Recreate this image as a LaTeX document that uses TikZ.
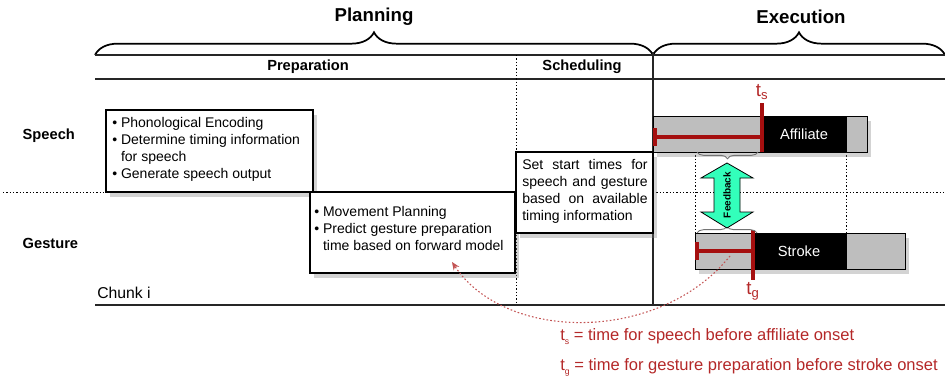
\documentclass[tikz,border=0pt]{standalone}
\usepackage{fontspec}
\setmainfont{Liberation Sans}
\usetikzlibrary{decorations.pathreplacing,shadows,fit,arrows.meta,calc}
\definecolor{dred}{RGB}{165,15,15}
\definecolor{tred}{RGB}{180,40,40}
\definecolor{fbgreen}{RGB}{51,255,187}
\definecolor{bargray}{RGB}{190,190,190}
\newcommand{\lsub}[1]{\raisebox{-0.45ex}{\fontsize{6.5}{7}\selectfont #1}}
\begin{document}
\begin{tikzpicture}[x=0.75pt,y=-0.75pt,
  shad/.style={drop shadow={shadow xshift=3pt,shadow yshift=-3.5pt,opacity=0.35}},
  box/.style={draw=black,line width=0.9pt,fill=white,inner sep=0pt,shad},
  graybar/.style={draw=black,line width=0.6pt,fill=bargray,inner sep=0pt,shad},
  blackbar/.style={draw=black,line width=0.6pt,fill=black,inner sep=0pt},
  txt/.style={font=\fontsize{10.5}{12.75}\selectfont,inner sep=0pt},
  legend/.style={font=\fontsize{12.4}{14}\selectfont,inner sep=0pt,text=tred,anchor=west},
  title/.style={font=\bfseries\fontsize{14}{16}\selectfont},
  head/.style={font=\bfseries\fontsize{11}{13}\selectfont},
  bigbrace/.style={decorate,decoration={brace,amplitude=17pt},line width=1.3pt},
  smallbrace/.style={decorate,decoration={brace,amplitude=5pt},line width=0.7pt,draw=black!55},
  rule/.style={line width=0.8pt,draw=black!85},
  dotline/.style={line width=0.6pt,dash pattern=on 1pt off 1.5pt},
  redbar/.style={draw=dred,line width=2.6pt},
  curvearrow/.style={draw=tred!80,line width=0.8pt,dash pattern=on 1.2pt off 1.6pt,-{Stealth[length=6pt,width=5pt]}}
]
\useasboundingbox (0,0) rectangle (945,378);

% titles and braces
\node[title] (plan) at (374,17) {Planning};
\node[title] (exec) at (801,17) {Execution};
\draw[bigbrace] (95,55) -- (653,55);
\draw[bigbrace] (653,55) -- (945,55);

% table lines
\draw[rule] (95,55) -- (945,55);
\draw[rule] (95,79) -- (945,79);
\draw[rule] (95,305) -- (945,305);
\draw[rule] (653,52) -- (653,305);
\draw[dotline] (516,55) -- (516,305);
\draw[dotline] (3,192) -- (945,192);
\draw[dotline] (695,152) -- (695,233);
\draw[dotline] (846,152) -- (846,233);

\node[head] (prep) at (308,67) {Preparation};
\node[head] (sched) at (582,67) {Scheduling};
\node[head,anchor=west] (speech) at (18,136) {Speech};
\node[head,anchor=west] (gesture) at (18,243) {Gesture};
\node[txt,anchor=west,font=\fontsize{11.8}{13}\selectfont] (chunk) at (97,293) {Chunk i};

% boxes
\node[box,fit={(106,110) (313,192)}] (b1) {};
\node[txt,anchor=north west,align=left] (t1) at (112,117) {• Phonological Encoding\\• Determine timing information\\\hphantom{• }for speech\\• Generate speech output};
\node[box,fit={(310,192) (515,273)}] (b2) {};
\node[txt,anchor=north west,align=left] (t2) at (314,206) {• Movement Planning\\• Predict gesture preparation\\\hphantom{• }time based on forward model};
\node[box,fit={(516,152) (653,233)}] (b3) {};
\node[txt,anchor=north west,align=left] (t3) at (522,159) {\makebox[94pt][s]{Set start times for}\\\makebox[94pt][s]{speech and gesture}\\\makebox[94pt][s]{based on available}\\timing information};

% affiliate bar
\node[graybar,fit={(653,116) (867,152)}] (aff) {};
\node[blackbar,fit={(762,116) (846,152)}] (affb) {};
\node[txt,text=white,font=\fontsize{11}{13}\selectfont] (afft) at (affb.center) {Affiliate};
% stroke bar
\node[graybar,fit={(695,233) (905,269)}] (str) {};
\node[blackbar,fit={(752,233) (846,269)}] (strb) {};
\node[txt,text=white,font=\fontsize{11}{13}\selectfont] (strt) at (strb.center) {Stroke};

% red timing marks
\draw[redbar] (762,103) -- (762,152);
\draw[redbar] (655,137) -- (762,137);
\draw[redbar] (655,128) -- (655,146);
\node[text=tred,font=\fontsize{14}{16}\selectfont] (ts) at (762,92) {t\textsubscript{s}};
\draw[redbar] (753,230) -- (753,280);
\draw[redbar] (697,251) -- (753,251);
\draw[redbar] (697,242) -- (697,260);
\node[text=tred,font=\fontsize{14}{16}\selectfont] (tg) at (753,291) {t\textsubscript{g}};

% small braces
\draw[smallbrace] (758,152) -- (697,152);
\draw[smallbrace] (697,233) -- (757,233);

% feedback arrow
\draw[fill=fbgreen,line width=0.6pt] (727,163) -- (753,178) -- (740,178) -- (740,212) -- (753,212) -- (727,228) -- (701,212) -- (714,212) -- (714,178) -- (701,178) -- cycle;
\node[rotate=90,font=\bfseries\fontsize{7.5}{8}\selectfont,inner sep=0pt] (fb) at (727,195) {Feedback};

% curved arrow
\coordinate (cs) at (730,256);
\coordinate (ce) at (452,262);
\draw[curvearrow] (cs) .. controls (660,343) and (506,343) .. (ce);

% legend
\node[legend] (leg1) at (560,337) {t\lsub{s} = time for speech before affiliate onset};
\node[legend] (leg2) at (560,367) {t\lsub{g} = time for gesture preparation before stroke onset};
\end{tikzpicture}
\end{document}
